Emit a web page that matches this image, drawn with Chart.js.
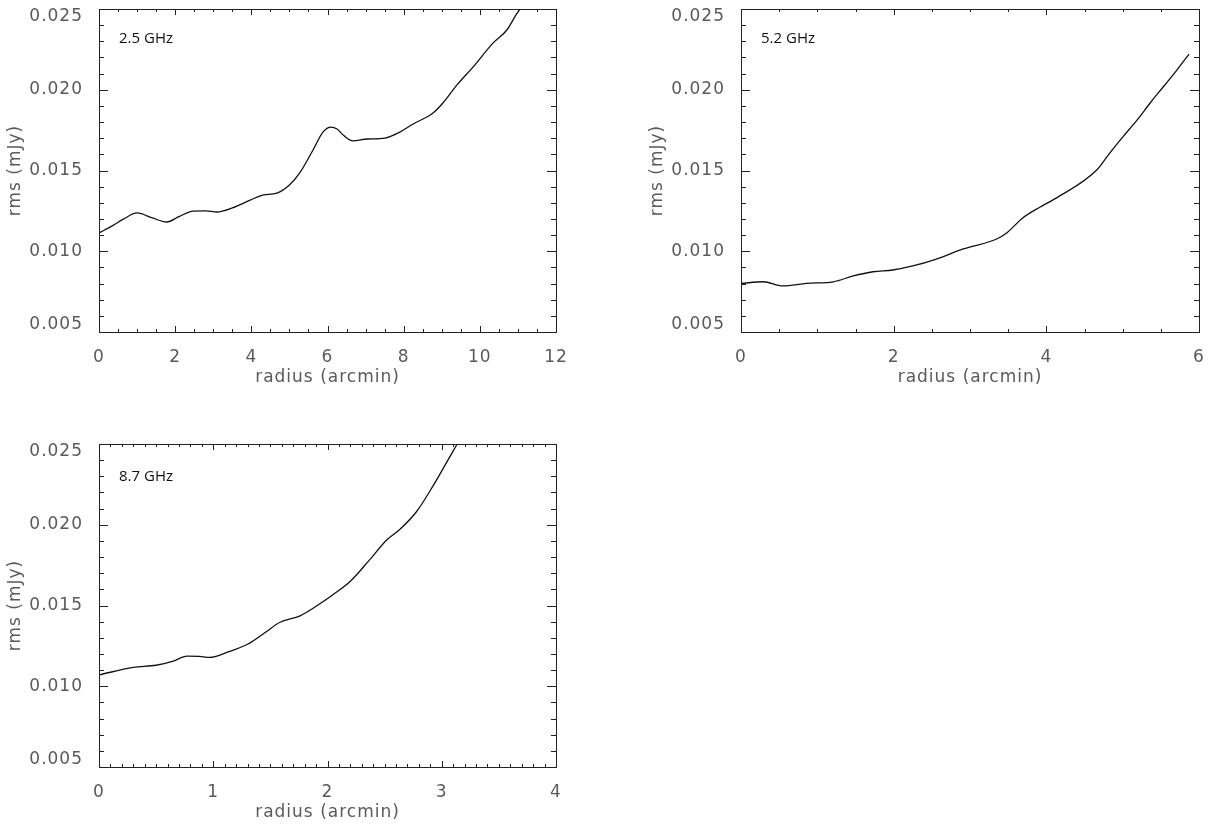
<!DOCTYPE html>
<html>
<head>
<meta charset="utf-8">
<script src="https://cdn.jsdelivr.net/npm/chart.js@4.4.1/dist/chart.umd.min.js"></script>
<style>
  html, body { margin: 0; padding: 0; background: #fff; }
  body { width: 1214px; height: 832px; overflow: hidden; position: relative; }
  canvas { position: absolute; }
</style>
</head>
<body>
<canvas id="p25" width="600" height="400" style="left:0;top:0;width:600px;height:400px"></canvas>
<canvas id="p52" width="572" height="400" style="left:642px;top:0;width:572px;height:400px"></canvas>
<canvas id="p87" width="600" height="400" style="left:0;top:435px;width:600px;height:400px"></canvas>
<script>
/* ================= DATA ================= */
const r25 = [0, 0.37, 0.63, 1.0, 1.4, 1.78, 2.1, 2.47, 2.8, 3.1, 3.5, 3.97, 4.3, 4.67, 5.0, 5.28,
  5.62, 5.88, 6.09, 6.25, 6.41, 6.67, 7.04, 7.51, 7.9, 8.25, 8.77, 9.03, 9.4, 9.82, 10.35, 10.71, 10.98, 11.2];
const rms25 = [0.01113, 0.0116, 0.01197, 0.01237, 0.01206, 0.01181, 0.01214, 0.01249, 0.0125, 0.01243,
  0.01268, 0.01317, 0.01348, 0.0136, 0.0141, 0.01488, 0.01627, 0.01738, 0.01769, 0.01757, 0.0172,
  0.01683, 0.01695, 0.01701, 0.01738, 0.01788, 0.01856, 0.01918, 0.0203, 0.0214, 0.0229, 0.0237, 0.02475, 0.0254];

const r52 = [0, 0.29, 0.55, 0.86, 1.21, 1.47, 1.73, 1.99, 2.25, 2.55, 2.91, 3.35, 3.48, 3.69, 3.92,
  4.11, 4.66, 4.83, 5.0, 5.19, 5.36, 5.53, 5.71, 5.87];
const rms52 = [0.00801, 0.00811, 0.00785, 0.00801, 0.00811, 0.00847, 0.00873, 0.00884, 0.00909, 0.0095,
  0.01014, 0.01076, 0.01113, 0.01206, 0.01274, 0.01324, 0.01503, 0.01608, 0.01707, 0.01813, 0.01918,
  0.02017, 0.02122, 0.02221];

const r87 = [0, 0.3, 0.5, 0.65, 0.77, 0.88, 0.97, 1.12, 1.3, 1.47, 1.58, 1.76, 1.9, 2.05, 2.2, 2.37,
  2.52, 2.63, 2.78, 2.92, 3.04, 3.13, 3.2];
const rms87 = [0.0107, 0.01117, 0.0113, 0.01156, 0.01187, 0.01185, 0.01179, 0.0121, 0.0126, 0.01341,
  0.01395, 0.01436, 0.01495, 0.01568, 0.0165, 0.01784, 0.01907, 0.01969, 0.02082, 0.02236, 0.02383,
  0.02494, 0.0258];

const yMin = 0.005, yMax = 0.025, yStep = 0.005, yMinor = 0.001;
const xLabel = "radius (arcmin)";
const yLabel = "rms (mJy)";

/* ================= TICKS + FRAME ================= */
const AXIS_COLOR = "#222";
const TEXT_COLOR = "#5a5a5a";

function drawTicks(ctx, scale, a, step, minor, horiz, majLen, minLen) {
  const n = Math.round((scale.max - scale.min) / minor);
  for (let i = 0; i <= n; i++) {
    const v = scale.min + i * minor;
    const q = v / step;
    const major = Math.abs(q - Math.round(q)) < 1e-6;
    const len = major ? majLen : minLen;
    const p = Math.round(scale.getPixelForValue(v)) + 0.5;
    if (horiz) {
      ctx.moveTo(p, a.bottom); ctx.lineTo(p, a.bottom - len);
      ctx.moveTo(p, a.top); ctx.lineTo(p, a.top + len);
    } else {
      ctx.moveTo(a.left, p); ctx.lineTo(a.left + len, p);
      ctx.moveTo(a.right, p); ctx.lineTo(a.right - len, p);
    }
  }
}

const frameTicks = {
  id: "frameTicks",
  beforeUpdate(chart) {
    // the plot font is wide, spread the letters a bit
    chart.ctx.letterSpacing = "1px";
  },
  afterDatasetsDraw(chart, args, opts) {
    const { ctx, chartArea: a, scales } = chart;
    ctx.save();
    ctx.strokeStyle = AXIS_COLOR;
    ctx.lineWidth = 1;
    ctx.strokeRect(Math.round(a.left) + 0.5, Math.round(a.top) + 0.5,
      Math.round(a.right - a.left), Math.round(a.bottom - a.top));
    ctx.beginPath();
    drawTicks(ctx, scales.x, a, opts.xStep, opts.xMinor, true, 6, 3);
    drawTicks(ctx, scales.y, a, yStep, yMinor, false, 9, 5);
    ctx.stroke();

    ctx.letterSpacing = "0px";
    ctx.fillStyle = "#111";
    ctx.font = '15px "Open Sans"';
    ctx.textBaseline = "middle";
    ctx.textAlign = "left";
    ctx.fillText(opts.label, a.left + 20, a.top + opts.labelDy);
    ctx.restore();
  }
};

function noPad(s) {
  s.paddingTop = 0; s.paddingBottom = 0;
  s.paddingLeft = 0; s.paddingRight = 0;
}

/* ================= PANELS ================= */
function makePanel(id, r, rms, xMax, xStep, xMinor, label, labelDy, rightPad) {
  const pts = r.map((x, i) => ({ x: x, y: rms[i] }));
  return new Chart(document.getElementById(id), {
    type: "line",
    data: {
      datasets: [{
        data: pts,
        borderColor: "#111",
        borderWidth: 1.3,
        pointRadius: 0,
        fill: false,
        cubicInterpolationMode: "monotone"
      }]
    },
    options: {
      responsive: false,
      animation: false,
      events: [],
      layout: { padding: { top: 9, right: rightPad, bottom: 0, left: 0 } },
      plugins: {
        legend: { display: false },
        tooltip: { enabled: false },
        frameTicks: { label: label, labelDy: labelDy, xStep: xStep, xMinor: xMinor }
      },
      scales: {
        x: {
          type: "linear",
          min: 0,
          max: xMax,
          grid: { display: false },
          border: { display: false },
          afterFit: s => { s.height = 68; noPad(s); },
          ticks: {
            stepSize: xStep,
            padding: 7,
            color: TEXT_COLOR,
            font: { family: "DejaVu Sans", size: 17 },
            maxRotation: 0,
            callback: v => String(v)
          },
          title: {
            display: true,
            text: xLabel,
            color: TEXT_COLOR,
            font: { family: "DejaVu Sans", size: 17 },
            padding: { top: 0, bottom: 12 }
          }
        },
        y: {
          min: yMin,
          max: yMax,
          grid: { display: false },
          border: { display: false },
          afterFit: s => { s.width = 99; noPad(s); },
          ticks: {
            stepSize: yStep,
            padding: 8,
            color: TEXT_COLOR,
            font: { family: "DejaVu Sans", size: 17, lineHeight: 0.9 },
            callback: (v, i, ticks) => {
              const s = v.toFixed(3);
              if (i === ticks.length - 1) return ["", s];
              if (i === 0) return [s, ""];
              return s;
            }
          },
          title: {
            display: true,
            text: yLabel,
            color: TEXT_COLOR,
            font: { family: "DejaVu Sans", size: 17 },
            padding: { top: 5, bottom: 0 }
          }
        }
      }
    },
    plugins: [frameTicks]
  });
}

/* ================= INIT ================= */
makePanel("p25", r25, rms25, 12, 2, 0.5, "2.5 GHz", 30, 44);
makePanel("p52", r52, rms52, 6, 2, 0.5, "5.2 GHz", 30, 15);
makePanel("p87", r87, rms87, 4, 1, 0.1, "8.7 GHz", 33, 44);
</script>
</body>
</html>
